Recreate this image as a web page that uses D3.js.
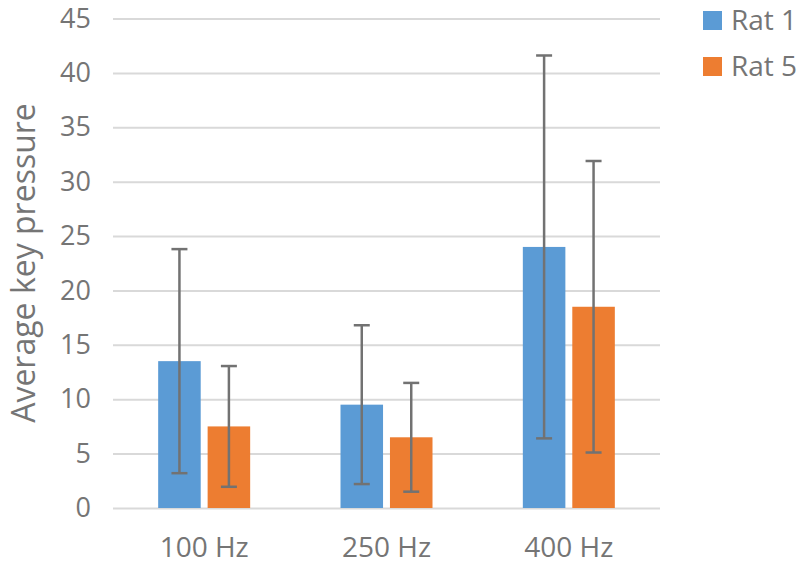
<!DOCTYPE html>
<html><head><meta charset="utf-8">
<script src="https://cdn.jsdelivr.net/npm/d3@7"></script>
<style>body{margin:0;background:#fff}svg{display:block}text{font-family:"Open Sans",sans-serif;fill:#757575}</style>
</head><body><div id="chart"></div>
<script>
const categories = ["100 Hz","250 Hz","400 Hz"];
const seriesNames = ["Rat 1","Rat 5"];
const rat1 = [13.5, 9.5, 24.0];
const rat5 = [7.5, 6.5, 18.5];
const rat1Err = [10.3, 7.3, 17.6];
const rat5Err = [5.55, 5.0, 13.4];
const yTicks = [0,5,10,15,20,25,30,35,40,45];
const colors = ["#5b9bd5","#ed7d31"];

const W=800,H=565;
const m={left:113,right:140,top:18.5,bottom:57};
const svg=d3.select("#chart").append("svg").attr("width",W).attr("height",H);
const x0=d3.scaleBand().domain(categories).range([m.left,W-m.right]).paddingInner(0).paddingOuter(0);
const x1=d3.scaleBand().domain(seriesNames).range([x0.bandwidth()/2-46,x0.bandwidth()/2+46]).paddingInner(0.14).paddingOuter(0);
const y=d3.scaleLinear().domain([0,45]).range([H-m.bottom,m.top]);

// grid
const yAxis=d3.axisLeft(y).tickValues(yTicks).tickSize(-(W-m.right-m.left)).tickPadding(22);
const ga=svg.append("g").attr("transform",`translate(${m.left},0)`).call(yAxis);
ga.select(".domain").remove();
ga.selectAll(".tick line").attr("stroke","#d9d9d9").attr("stroke-width",2);
ga.selectAll(".tick text").attr("font-size",27).style("fill","#757575").attr("font-family","Open Sans");

const xAxis=d3.axisBottom(x0).tickSize(0).tickPadding(29);
const gx=svg.append("g").attr("transform",`translate(0,${y(0)})`).call(xAxis);
gx.select(".domain").remove();
gx.selectAll(".tick text").attr("font-size",28).style("fill","#757575").attr("font-family","Open Sans");

const data=categories.map((c,i)=>[
  {c,s:seriesNames[0],v:rat1[i],e:rat1Err[i],col:colors[0]},
  {c,s:seriesNames[1],v:rat5[i],e:rat5Err[i],col:colors[1]}]).flat();

const g=svg.append("g");
g.selectAll("rect.bar").data(data).join("rect").attr("class","bar")
 .attr("x",d=>x0(d.c)+x1(d.s)).attr("width",x1.bandwidth())
 .attr("y",d=>y(d.v)).attr("height",d=>y(0)-y(d.v)).attr("fill",d=>d.col);

const eb=g.selectAll("g.err").data(data).join("g").attr("class","err")
 .attr("transform",d=>`translate(${x0(d.c)+x1(d.s)+x1.bandwidth()/2},0)`);
eb.append("line").attr("y1",d=>y(d.v-d.e)).attr("y2",d=>y(d.v+d.e)).attr("stroke","#727272").attr("stroke-width",2.5);
eb.append("line").attr("x1",-8).attr("x2",8).attr("y1",d=>y(d.v+d.e)).attr("y2",d=>y(d.v+d.e)).attr("stroke","#727272").attr("stroke-width",2.5);
eb.append("line").attr("x1",-8).attr("x2",8).attr("y1",d=>y(d.v-d.e)).attr("y2",d=>y(d.v-d.e)).attr("stroke","#727272").attr("stroke-width",2.5);

// y title
svg.append("text").attr("transform",`translate(35,263) rotate(-90)`).attr("text-anchor","middle")
 .attr("font-size",32).text("Average key pressure");

// legend
const lg=svg.append("g").selectAll("g").data(seriesNames).join("g")
 .attr("transform",(d,i)=>`translate(703,${11+i*46})`);
lg.append("rect").attr("width",19).attr("height",19).attr("fill",(d,i)=>colors[i]);
lg.append("text").attr("x",28).attr("y",9.5).attr("dy","0.35em").attr("font-size",28).text(d=>d);
</script></body></html>
